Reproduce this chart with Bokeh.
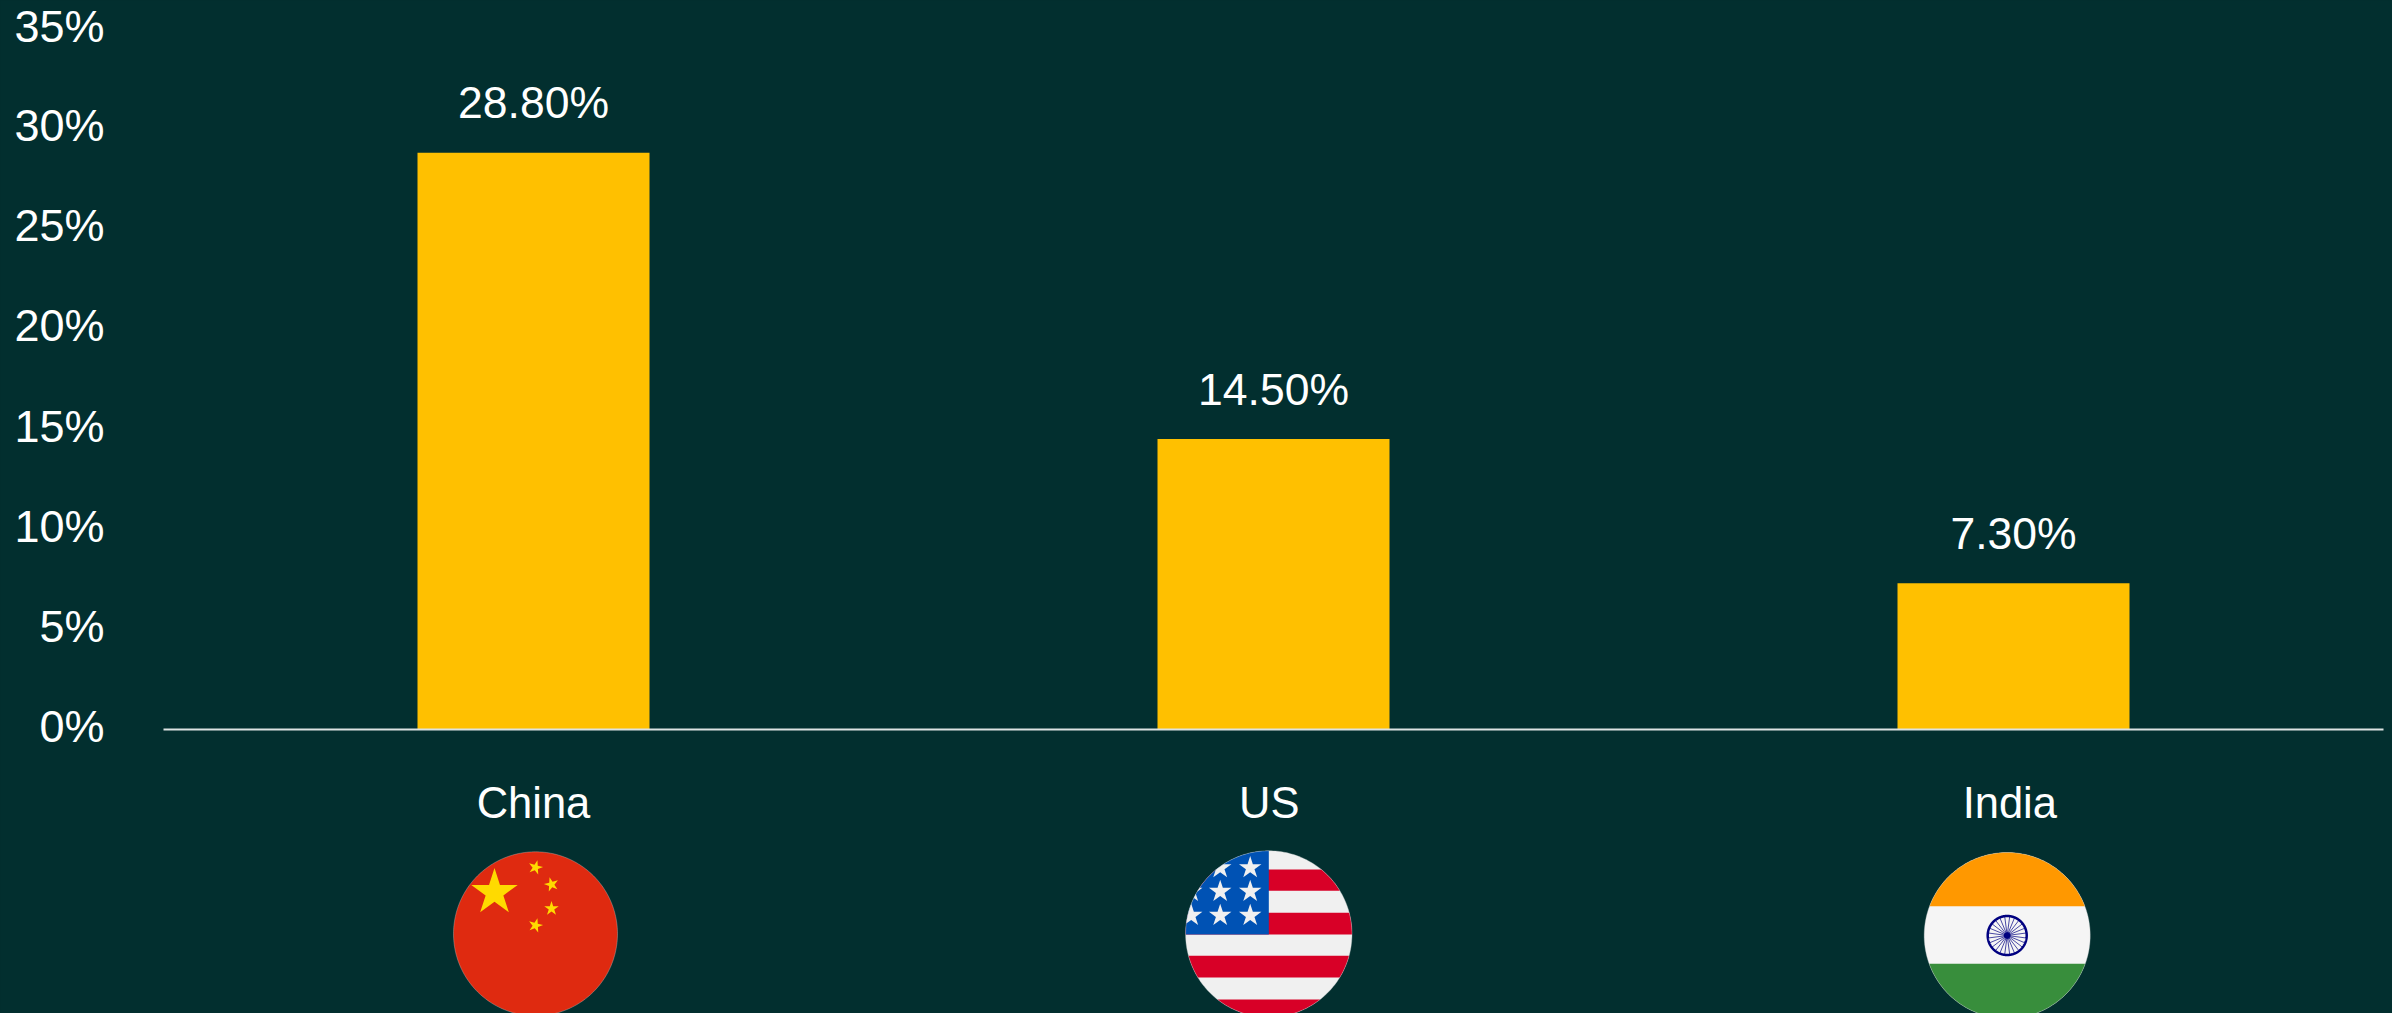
import numpy as np
from bokeh.plotting import figure
from bokeh.models import Range1d, LinearAxis, FixedTicker, PrintfTickFormatter, ColumnDataSource
from bokeh.core.properties import value
from bokeh.embed import file_html
from bokeh.resources import INLINE

# ---- data ----
categories = ["China", "US", "India"]
shares = [28.8, 14.5, 7.3]
share_labels = ["28.80%", "14.50%", "7.30%"]
y_ticks = [0, 5, 10, 15, 20, 25, 30, 35]

# ---- style ----
W, H = 2392, 1013
BG = "#022F2F"
BAR = "#FFC000"
FONT = "Liberation Sans"

xpos = list(range(len(categories)))
# the category labels sit slightly left of their bars in the reference
label_pos = [0, 0.9942, 1.995]
BASE_PX, PX_PER_PCT = 729, 20.03
CENTER_PX, PX_PER_CAT = 533, 740

p = figure(width=W, height=H, output_backend="svg", toolbar_location=None,
           x_range=Range1d(-CENTER_PX / PX_PER_CAT, (W - CENTER_PX) / PX_PER_CAT),
           y_range=Range1d(-(H - BASE_PX) / PX_PER_PCT, BASE_PX / PX_PER_PCT),
           x_axis_type=None, y_axis_type=None,
           background_fill_color=BG, border_fill_color=BG,
           min_border=0, min_border_left=0, min_border_right=0, min_border_top=0, min_border_bottom=0)
p.grid.visible = False
p.outline_line_color = None

# pixel-space ranges, for the flag artwork only
p.extra_x_ranges["px"] = Range1d(0, W)
p.extra_y_ranges["px"] = Range1d(H, 0)
# tick labels sit a little above their true level in the reference
SHIFT = 3 / PX_PER_PCT
p.extra_y_ranges["lab"] = Range1d(p.y_range.start - SHIFT, p.y_range.end - SHIFT)

src = ColumnDataSource(dict(x=xpos, top=shares, label=share_labels))
p.vbar(x="x", top="top", bottom=0, width=232 / PX_PER_CAT, source=src, color=BAR, line_color=None)
p.text(x="x", y="top", text="label", source=src, text_color="white", text_font=value(FONT),
       text_font_size=value("44.5px"), text_align="center", text_baseline="alphabetic", y_offset=-50)

xaxis = LinearAxis(fixed_location=0, bounds=(-0.5, 2.5),
                   ticker=FixedTicker(ticks=label_pos),
                   major_label_overrides={i: c for i, c in zip(label_pos, categories)},
                   axis_line_color="#DDE3E3", axis_line_width=2,
                   major_tick_line_color=None, minor_tick_line_color=None,
                   major_label_text_color="white", major_label_text_font=FONT,
                   major_label_text_font_size="43.5px", major_label_standoff=43)
p.add_layout(xaxis, "below")

yaxis = LinearAxis(fixed_location=-0.5, y_range_name="lab",
                   ticker=FixedTicker(ticks=y_ticks),
                   formatter=PrintfTickFormatter(format="%d%%"),
                   axis_line_color=None, major_tick_line_color=None, minor_tick_line_color=None,
                   major_label_text_color="white", major_label_text_font=FONT,
                   major_label_text_font_size="45px", major_label_standoff=53)
p.add_layout(yaxis, "left")


# ---- flag artwork helpers ----
def circle_poly(cx, cy, r, n=240):
    t = np.linspace(0, 2 * np.pi, n, endpoint=False)
    return np.column_stack([cx + r * np.cos(t), cy + r * np.sin(t)])


def star_poly(cx, cy, r, rot=0.0):
    pts = []
    for i in range(10):
        rad = r if i % 2 == 0 else r * 0.382
        a = np.radians(-90 + rot + 36 * i)
        pts.append((cx + rad * np.cos(a), cy + rad * np.sin(a)))
    return np.array(pts)


def rect_poly(x0, y0, x1, y1):
    return np.array([(x0, y0), (x1, y0), (x1, y1), (x0, y1)], dtype=float)


def clip_to_circle(poly, cx, cy, r):
    """Sutherland-Hodgman against a convex polygon approximating the circle."""
    clip = circle_poly(cx, cy, r)
    out = [tuple(q) for q in poly]
    for i in range(len(clip)):
        a, b = clip[i], clip[(i + 1) % len(clip)]
        e = b - a
        inside = lambda q: e[0] * (q[1] - a[1]) - e[1] * (q[0] - a[0]) >= 0
        src_pts, out = out, []
        for j, q in enumerate(src_pts):
            pr = src_pts[j - 1]
            iq, ip = inside(q), inside(pr)
            if iq != ip:
                d = np.array(q) - np.array(pr)
                denom = e[0] * d[1] - e[1] * d[0]
                s = (e[1] * (pr[0] - a[0]) - e[0] * (pr[1] - a[1])) / denom
                out.append((pr[0] + s * d[0], pr[1] + s * d[1]))
            if iq:
                out.append(q)
        if not out:
            break
    return np.array(out) if out else None


def draw(poly, color):
    if poly is None or len(poly) < 3:
        return
    p.patch(poly[:, 0], poly[:, 1], fill_color=color, line_color=None,
            x_range_name="px", y_range_name="px")


def rim(cx, cy, r):
    c = circle_poly(cx, cy, r)
    p.patch(c[:, 0], c[:, 1], fill_color=None, line_color="#C9CFCF", line_width=1,
            line_alpha=0.35, x_range_name="px", y_range_name="px")


# China
cx, cy, r = 535, 933.3, 82
draw(circle_poly(cx, cy, r), "#DF2A10")
draw(star_poly(494, 892, 24.4), "#FFDA00")
for sx, sy, rot in [(535, 867, 15), (551, 884, -15), (551, 908, 0), (535, 925, 15)]:
    draw(star_poly(sx, sy, 7.6, rot), "#FFDA00")
rim(cx, cy, r)

# US
cx, cy, r = 1268.3, 933.5, 83.2
draw(circle_poly(cx, cy, r), "#F0F0F0")
stripe_edges = [869, 890.3, 912.3, 934, 955.3, 977, 999, 1020]
for y0, y1, i in zip(stripe_edges[:-1], stripe_edges[1:], range(7)):
    if i % 2 == 0:
        draw(clip_to_circle(rect_poly(1170, y0, 1360, y1), cx, cy, r), "#D80027")
draw(clip_to_circle(rect_poly(1170, 840, cx, 934), cx, cy, r), "#0052B4")
for sx, sy in [(1249.7, 867.3), (1219.7, 867.3), (1249.7, 891), (1219.7, 891), (1190.7, 891),
               (1249.7, 915), (1219.7, 915), (1190.7, 915)]:
    draw(clip_to_circle(star_poly(sx, sy, 11.8), cx, cy, r), "#F0F0F0")
rim(cx, cy, r)

# India
cx, cy, r = 2006.7, 935, 83
draw(circle_poly(cx, cy, r), "#F5F5F5")
draw(clip_to_circle(rect_poly(1910, 840, 2100, 905.7), cx, cy, r), "#FF9800")
draw(clip_to_circle(rect_poly(1910, 963.3, 2100, 1030), cx, cy, r), "#388E3C")
rim(cx, cy, r)
ang = np.radians(np.arange(0, 360, 15) + 7.5)
p.segment(cx + 3 * np.cos(ang), cy + 3 * np.sin(ang), cx + 19 * np.cos(ang), cy + 19 * np.sin(ang),
          line_color="#000080", line_width=1, line_alpha=0.7, x_range_name="px", y_range_name="px")
ring = circle_poly(cx, cy, 19.5)
p.patch(ring[:, 0], ring[:, 1], fill_color=None, line_color="#000080", line_width=2.5,
        x_range_name="px", y_range_name="px")
hub = circle_poly(cx, cy, 3.4)
draw(hub, "#000080")

html = file_html(p, INLINE)
html = html.replace("</head>", f"<style>html,body{{margin:0;padding:0;background:{BG};overflow:hidden}}</style></head>", 1)
open("out.html", "w").write(html)
